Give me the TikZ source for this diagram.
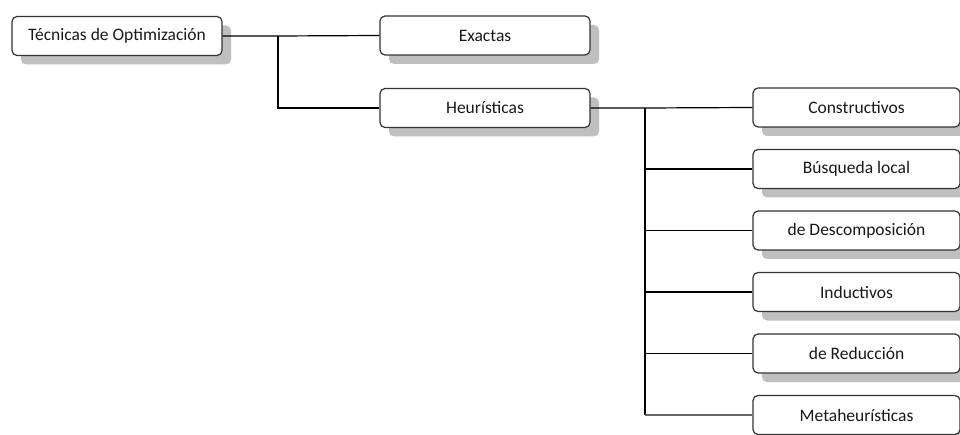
\documentclass[tikz,border=0pt]{standalone}
\usepackage{fontspec}
\setmainfont{Carlito}
\usetikzlibrary{shadows}
\begin{document}
\begin{tikzpicture}[x=1pt,y=-1pt,
  box/.style={draw=black!80, line width=1.2pt, rounded corners=5pt, fill=white,
    minimum height=39pt, inner sep=0pt, text=black!90, font=\fontsize{17.5}{20}\selectfont,
    drop shadow={shadow xshift=9pt, shadow yshift=-9pt, fill=black!25, opacity=1}},
  wide/.style={box, minimum width=210pt},
  leaf/.style={box, minimum width=207pt},
  link/.style={draw=black, line width=1.2pt}]
\useasboundingbox (0,0) rectangle (960,435);

% main branches
\node[wide] (root) at (117,36) {Técnicas de Optimización};
\node[wide] (exact) at (485,35.5) {Exactas};
\node[wide] (heur) at (485,108) {Heurísticas};

% heuristic families
\node[leaf] (cons) at (856.5,107.5) {Constructivos};
\node[leaf] (local) at (856.5,169) {Búsqueda local};
\node[leaf] (decomp) at (856.5,230.5) {de Descomposición};
\node[leaf] (induct) at (856.5,292) {Inductivos};
\node[leaf] (reduc) at (856.5,353.5) {de Reducción};
\node[leaf] (meta) at (856.5,415) {Metaheurísticas};

% first-level connectors
\coordinate (j1) at (278,36);
\draw[link] (root.east) -- (j1) -- (exact.west);
\draw[link] (j1) |- (heur.west);

% second-level connectors
\coordinate (j2) at (645,108);
\coordinate (j2end) at (645,415);
\draw[link] (heur.east) -- (j2) -- (cons.west);
\draw[link] (j2) -- (j2end);
\draw[link] (j2 |- local.west) -- (local.west);
\draw[link] (j2 |- decomp.west) -- (decomp.west);
\draw[link] (j2 |- induct.west) -- (induct.west);
\draw[link] (j2 |- reduc.west) -- (reduc.west);
\draw[link, draw=black!60] (j2end) -- (meta.west);
\end{tikzpicture}
\end{document}
